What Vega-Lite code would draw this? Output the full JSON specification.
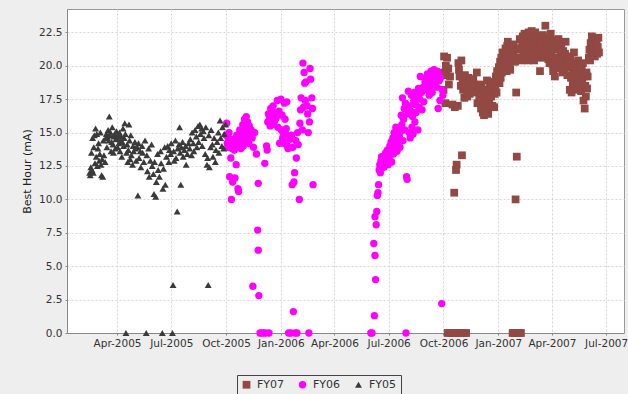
{
"$schema":"https://vega.github.io/schema/vega-lite/v6.json",
"width":557,"height":324,
"autosize":{"type":"none"},
"padding":{"left":67,"top":9,"right":4,"bottom":61},
"background":"#eeeeee",
"config":{
 "view":{"fill":"white","stroke":"#999999","strokeWidth":1},
 "axis":{"labelFont":"DejaVu Sans","labelFontSize":10.5,"labelColor":"#333333","titleFont":"DejaVu Sans","titleFontSize":11,"titleFontWeight":"normal","titleColor":"#222222","gridColor":"#d6d6d6","gridDash":[2,2],"domainColor":"#888888","tickColor":"#888888","tickSize":2,"labelPadding":3},
 "legend":{"strokeColor":"#444444","padding":4,"labelFont":"DejaVu Sans","labelFontSize":11,"labelColor":"#333333","symbolSize":40,"columnPadding":12,"symbolStrokeWidth":0,"labelOffset":5}
},
"data":{"values":[
{"d":"2006-10-01","v":18.2,"s":"FY07"},{"d":"2006-10-02","v":20.7,"s":"FY07"},{"d":"2006-10-03","v":19.5,"s":"FY07"},{"d":"2006-10-04","v":17.2,"s":"FY07"},{"d":"2006-10-05","v":20.0,"s":"FY07"},{"d":"2006-10-06","v":19.3,"s":"FY07"},{"d":"2006-10-07","v":20.6,"s":"FY07"},{"d":"2006-10-08","v":0,"s":"FY07"},{"d":"2006-10-09","v":19.8,"s":"FY07"},{"d":"2006-10-10","v":18.6,"s":"FY07"},{"d":"2006-10-12","v":19.2,"s":"FY07"},{"d":"2006-10-13","v":0,"s":"FY07"},{"d":"2006-10-16","v":17.1,"s":"FY07"},{"d":"2006-10-18","v":0,"s":"FY07"},{"d":"2006-10-19","v":10.5,"s":"FY07"},{"d":"2006-10-20","v":16.9,"s":"FY07"},{"d":"2006-10-22","v":12.2,"s":"FY07"},{"d":"2006-10-23","v":12.6,"s":"FY07"},{"d":"2006-10-24","v":0,"s":"FY07"},{"d":"2006-10-25","v":17.0,"s":"FY07"},{"d":"2006-10-26","v":20.2,"s":"FY07"},{"d":"2006-10-27","v":19.7,"s":"FY07"},{"d":"2006-10-28","v":19.2,"s":"FY07"},{"d":"2006-10-29","v":0,"s":"FY07"},{"d":"2006-10-30","v":18.5,"s":"FY07"},{"d":"2006-10-31","v":20.4,"s":"FY07"},
{"d":"2006-11-01","v":13.3,"s":"FY07"},{"d":"2006-11-02","v":19.0,"s":"FY07"},{"d":"2006-11-03","v":18.2,"s":"FY07"},{"d":"2006-11-04","v":0,"s":"FY07"},{"d":"2006-11-05","v":17.6,"s":"FY07"},{"d":"2006-11-06","v":19.3,"s":"FY07"},{"d":"2006-11-07","v":18.8,"s":"FY07"},{"d":"2006-11-08","v":0,"s":"FY07"},{"d":"2006-11-09","v":18.0,"s":"FY07"},{"d":"2006-11-10","v":17.7,"s":"FY07"},{"d":"2006-11-11","v":18.4,"s":"FY07"},{"d":"2006-11-12","v":19.1,"s":"FY07"},{"d":"2006-11-13","v":18.6,"s":"FY07"},{"d":"2006-11-14","v":17.9,"s":"FY07"},{"d":"2006-11-16","v":18.9,"s":"FY07"},{"d":"2006-11-18","v":18.2,"s":"FY07"},{"d":"2006-11-20","v":19.0,"s":"FY07"},{"d":"2006-11-22","v":18.6,"s":"FY07"},{"d":"2006-11-24","v":18.0,"s":"FY07"},{"d":"2006-11-26","v":19.5,"s":"FY07"},{"d":"2006-11-27","v":17.2,"s":"FY07"},{"d":"2006-11-29","v":18.4,"s":"FY07"},{"d":"2006-11-30","v":17.5,"s":"FY07"},
{"d":"2006-12-01","v":18.1,"s":"FY07"},{"d":"2006-12-02","v":17.3,"s":"FY07"},{"d":"2006-12-03","v":16.8,"s":"FY07"},{"d":"2006-12-04","v":18.6,"s":"FY07"},{"d":"2006-12-05","v":17.0,"s":"FY07"},{"d":"2006-12-06","v":16.5,"s":"FY07"},{"d":"2006-12-07","v":17.9,"s":"FY07"},{"d":"2006-12-08","v":16.3,"s":"FY07"},{"d":"2006-12-09","v":17.4,"s":"FY07"},{"d":"2006-12-10","v":18.2,"s":"FY07"},{"d":"2006-12-11","v":16.7,"s":"FY07"},{"d":"2006-12-12","v":17.6,"s":"FY07"},{"d":"2006-12-13","v":18.9,"s":"FY07"},{"d":"2006-12-14","v":17.1,"s":"FY07"},{"d":"2006-12-15","v":16.4,"s":"FY07"},{"d":"2006-12-16","v":18.0,"s":"FY07"},{"d":"2006-12-17","v":17.3,"s":"FY07"},{"d":"2006-12-18","v":18.5,"s":"FY07"},{"d":"2006-12-19","v":16.9,"s":"FY07"},{"d":"2006-12-20","v":17.7,"s":"FY07"},{"d":"2006-12-21","v":18.3,"s":"FY07"},{"d":"2006-12-22","v":17.0,"s":"FY07"},{"d":"2006-12-24","v":18.8,"s":"FY07"},{"d":"2006-12-25","v":16.9,"s":"FY07"},{"d":"2006-12-26","v":17.9,"s":"FY07"},{"d":"2006-12-27","v":18.4,"s":"FY07"},{"d":"2006-12-28","v":19.2,"s":"FY07"},{"d":"2006-12-29","v":18.0,"s":"FY07"},{"d":"2006-12-30","v":19.6,"s":"FY07"},{"d":"2006-12-31","v":18.7,"s":"FY07"},
{"d":"2007-01-01","v":19.4,"s":"FY07"},{"d":"2007-01-02","v":19.9,"s":"FY07"},{"d":"2007-01-03","v":18.7,"s":"FY07"},{"d":"2007-01-04","v":20.3,"s":"FY07"},{"d":"2007-01-05","v":19.1,"s":"FY07"},{"d":"2007-01-06","v":20.6,"s":"FY07"},{"d":"2007-01-07","v":19.5,"s":"FY07"},{"d":"2007-01-08","v":21.0,"s":"FY07"},{"d":"2007-01-09","v":20.0,"s":"FY07"},{"d":"2007-01-10","v":20.4,"s":"FY07"},{"d":"2007-01-11","v":19.7,"s":"FY07"},{"d":"2007-01-12","v":20.8,"s":"FY07"},{"d":"2007-01-13","v":21.3,"s":"FY07"},{"d":"2007-01-14","v":20.2,"s":"FY07"},{"d":"2007-01-15","v":19.6,"s":"FY07"},{"d":"2007-01-16","v":21.5,"s":"FY07"},{"d":"2007-01-17","v":21.8,"s":"FY07"},{"d":"2007-01-18","v":20.5,"s":"FY07"},{"d":"2007-01-19","v":21.1,"s":"FY07"},{"d":"2007-01-20","v":20.0,"s":"FY07"},{"d":"2007-01-21","v":19.7,"s":"FY07"},{"d":"2007-01-22","v":21.4,"s":"FY07"},{"d":"2007-01-23","v":20.7,"s":"FY07"},{"d":"2007-01-25","v":0,"s":"FY07"},{"d":"2007-01-26","v":20.9,"s":"FY07"},{"d":"2007-01-27","v":21.6,"s":"FY07"},{"d":"2007-01-28","v":0,"s":"FY07"},{"d":"2007-01-29","v":20.3,"s":"FY07"},{"d":"2007-01-30","v":10.0,"s":"FY07"},{"d":"2007-01-31","v":18.0,"s":"FY07"},
{"d":"2007-02-01","v":13.2,"s":"FY07"},{"d":"2007-02-02","v":0,"s":"FY07"},{"d":"2007-02-03","v":21.2,"s":"FY07"},{"d":"2007-02-04","v":20.6,"s":"FY07"},{"d":"2007-02-05","v":0,"s":"FY07"},{"d":"2007-02-06","v":22.0,"s":"FY07"},{"d":"2007-02-07","v":21.3,"s":"FY07"},{"d":"2007-02-08","v":0,"s":"FY07"},{"d":"2007-02-09","v":20.4,"s":"FY07"},{"d":"2007-02-10","v":21.7,"s":"FY07"},{"d":"2007-02-11","v":22.2,"s":"FY07"},{"d":"2007-02-12","v":20.8,"s":"FY07"},{"d":"2007-02-13","v":21.5,"s":"FY07"},{"d":"2007-02-14","v":22.4,"s":"FY07"},{"d":"2007-02-15","v":21.0,"s":"FY07"},{"d":"2007-02-16","v":20.5,"s":"FY07"},{"d":"2007-02-17","v":21.9,"s":"FY07"},{"d":"2007-02-18","v":22.3,"s":"FY07"},{"d":"2007-02-19","v":21.2,"s":"FY07"},{"d":"2007-02-20","v":20.4,"s":"FY07"},{"d":"2007-02-21","v":22.5,"s":"FY07"},{"d":"2007-02-22","v":21.6,"s":"FY07"},{"d":"2007-02-23","v":22.0,"s":"FY07"},{"d":"2007-02-24","v":20.9,"s":"FY07"},{"d":"2007-02-25","v":21.8,"s":"FY07"},{"d":"2007-02-26","v":22.6,"s":"FY07"},{"d":"2007-02-27","v":21.4,"s":"FY07"},
{"d":"2007-03-01","v":22.1,"s":"FY07"},{"d":"2007-03-02","v":20.4,"s":"FY07"},{"d":"2007-03-03","v":21.7,"s":"FY07"},{"d":"2007-03-04","v":22.5,"s":"FY07"},{"d":"2007-03-05","v":21.0,"s":"FY07"},{"d":"2007-03-06","v":21.9,"s":"FY07"},{"d":"2007-03-07","v":22.2,"s":"FY07"},{"d":"2007-03-08","v":20.8,"s":"FY07"},{"d":"2007-03-09","v":21.5,"s":"FY07"},{"d":"2007-03-10","v":22.0,"s":"FY07"},{"d":"2007-03-12","v":19.6,"s":"FY07"},{"d":"2007-03-13","v":21.3,"s":"FY07"},{"d":"2007-03-14","v":20.6,"s":"FY07"},{"d":"2007-03-15","v":21.8,"s":"FY07"},{"d":"2007-03-17","v":22.3,"s":"FY07"},{"d":"2007-03-18","v":21.1,"s":"FY07"},{"d":"2007-03-19","v":20.7,"s":"FY07"},{"d":"2007-03-20","v":22.0,"s":"FY07"},{"d":"2007-03-21","v":23.0,"s":"FY07"},{"d":"2007-03-22","v":21.6,"s":"FY07"},{"d":"2007-03-23","v":20.9,"s":"FY07"},{"d":"2007-03-24","v":21.4,"s":"FY07"},{"d":"2007-03-25","v":22.1,"s":"FY07"},{"d":"2007-03-26","v":20.5,"s":"FY07"},{"d":"2007-03-27","v":21.7,"s":"FY07"},{"d":"2007-03-28","v":20.2,"s":"FY07"},{"d":"2007-03-29","v":21.0,"s":"FY07"},{"d":"2007-03-30","v":22.4,"s":"FY07"},{"d":"2007-03-31","v":20.8,"s":"FY07"},
{"d":"2007-04-01","v":21.5,"s":"FY07"},{"d":"2007-04-02","v":20.1,"s":"FY07"},{"d":"2007-04-03","v":19.6,"s":"FY07"},{"d":"2007-04-04","v":21.9,"s":"FY07"},{"d":"2007-04-05","v":20.4,"s":"FY07"},{"d":"2007-04-06","v":19.2,"s":"FY07"},{"d":"2007-04-07","v":21.2,"s":"FY07"},{"d":"2007-04-08","v":20.0,"s":"FY07"},{"d":"2007-04-09","v":21.7,"s":"FY07"},{"d":"2007-04-10","v":20.6,"s":"FY07"},{"d":"2007-04-11","v":19.8,"s":"FY07"},{"d":"2007-04-12","v":22.0,"s":"FY07"},{"d":"2007-04-13","v":20.3,"s":"FY07"},{"d":"2007-04-14","v":21.4,"s":"FY07"},{"d":"2007-04-15","v":19.9,"s":"FY07"},{"d":"2007-04-16","v":20.8,"s":"FY07"},{"d":"2007-04-17","v":21.6,"s":"FY07"},{"d":"2007-04-18","v":20.2,"s":"FY07"},{"d":"2007-04-19","v":19.5,"s":"FY07"},{"d":"2007-04-20","v":21.1,"s":"FY07"},{"d":"2007-04-21","v":20.5,"s":"FY07"},{"d":"2007-04-22","v":19.7,"s":"FY07"},{"d":"2007-04-23","v":20.9,"s":"FY07"},{"d":"2007-04-24","v":21.8,"s":"FY07"},{"d":"2007-04-25","v":20.0,"s":"FY07"},{"d":"2007-04-26","v":20.6,"s":"FY07"},{"d":"2007-04-27","v":19.3,"s":"FY07"},{"d":"2007-04-28","v":20.4,"s":"FY07"},{"d":"2007-04-29","v":19.9,"s":"FY07"},{"d":"2007-04-30","v":20.7,"s":"FY07"},
{"d":"2007-05-01","v":18.2,"s":"FY07"},{"d":"2007-05-02","v":20.5,"s":"FY07"},{"d":"2007-05-03","v":19.1,"s":"FY07"},{"d":"2007-05-04","v":18.0,"s":"FY07"},{"d":"2007-05-05","v":20.2,"s":"FY07"},{"d":"2007-05-06","v":18.6,"s":"FY07"},{"d":"2007-05-07","v":19.7,"s":"FY07"},{"d":"2007-05-08","v":21.0,"s":"FY07"},{"d":"2007-05-09","v":18.4,"s":"FY07"},{"d":"2007-05-10","v":19.4,"s":"FY07"},{"d":"2007-05-11","v":20.0,"s":"FY07"},{"d":"2007-05-12","v":18.9,"s":"FY07"},{"d":"2007-05-13","v":19.6,"s":"FY07"},{"d":"2007-05-14","v":18.2,"s":"FY07"},{"d":"2007-05-15","v":20.4,"s":"FY07"},{"d":"2007-05-16","v":19.0,"s":"FY07"},{"d":"2007-05-17","v":18.6,"s":"FY07"},{"d":"2007-05-18","v":20.1,"s":"FY07"},{"d":"2007-05-19","v":19.3,"s":"FY07"},{"d":"2007-05-20","v":18.1,"s":"FY07"},{"d":"2007-05-21","v":19.8,"s":"FY07"},{"d":"2007-05-22","v":18.7,"s":"FY07"},{"d":"2007-05-23","v":20.2,"s":"FY07"},{"d":"2007-05-24","v":17.4,"s":"FY07"},{"d":"2007-05-25","v":19.2,"s":"FY07"},{"d":"2007-05-26","v":16.8,"s":"FY07"},{"d":"2007-05-27","v":18.5,"s":"FY07"},{"d":"2007-05-28","v":17.7,"s":"FY07"},{"d":"2007-05-29","v":19.5,"s":"FY07"},{"d":"2007-05-30","v":18.3,"s":"FY07"},{"d":"2007-05-31","v":19.2,"s":"FY07"},
{"d":"2007-06-02","v":20.6,"s":"FY07"},{"d":"2007-06-03","v":21.2,"s":"FY07"},{"d":"2007-06-04","v":20.4,"s":"FY07"},{"d":"2007-06-05","v":21.7,"s":"FY07"},{"d":"2007-06-06","v":21.0,"s":"FY07"},{"d":"2007-06-07","v":22.2,"s":"FY07"},{"d":"2007-06-08","v":20.8,"s":"FY07"},{"d":"2007-06-09","v":21.5,"s":"FY07"},{"d":"2007-06-10","v":21.9,"s":"FY07"},{"d":"2007-06-11","v":21.3,"s":"FY07"},{"d":"2007-06-12","v":20.7,"s":"FY07"},{"d":"2007-06-13","v":22.0,"s":"FY07"},{"d":"2007-06-14","v":21.1,"s":"FY07"},{"d":"2007-06-15","v":21.6,"s":"FY07"},{"d":"2007-06-16","v":20.9,"s":"FY07"},{"d":"2007-06-17","v":21.4,"s":"FY07"},{"d":"2007-06-18","v":22.1,"s":"FY07"},{"d":"2007-06-19","v":21.0,"s":"FY07"},

{"d":"2005-10-01","v":14.8,"s":"FY06"},{"d":"2005-10-02","v":15.7,"s":"FY06"},{"d":"2005-10-03","v":14.2,"s":"FY06"},{"d":"2005-10-04","v":13.9,"s":"FY06"},{"d":"2005-10-05","v":14.6,"s":"FY06"},{"d":"2005-10-06","v":15.0,"s":"FY06"},{"d":"2005-10-07","v":11.7,"s":"FY06"},{"d":"2005-10-08","v":14.4,"s":"FY06"},{"d":"2005-10-09","v":13.1,"s":"FY06"},{"d":"2005-10-10","v":10.0,"s":"FY06"},{"d":"2005-10-11","v":13.8,"s":"FY06"},{"d":"2005-10-12","v":11.3,"s":"FY06"},{"d":"2005-10-13","v":14.5,"s":"FY06"},{"d":"2005-10-14","v":14.0,"s":"FY06"},{"d":"2005-10-15","v":13.7,"s":"FY06"},{"d":"2005-10-16","v":11.6,"s":"FY06"},{"d":"2005-10-17","v":14.3,"s":"FY06"},{"d":"2005-10-18","v":12.6,"s":"FY06"},{"d":"2005-10-19","v":14.8,"s":"FY06"},{"d":"2005-10-20","v":13.9,"s":"FY06"},{"d":"2005-10-21","v":10.8,"s":"FY06"},{"d":"2005-10-22","v":10.6,"s":"FY06"},{"d":"2005-10-23","v":14.1,"s":"FY06"},{"d":"2005-10-24","v":15.2,"s":"FY06"},{"d":"2005-10-25","v":14.6,"s":"FY06"},{"d":"2005-10-26","v":13.8,"s":"FY06"},{"d":"2005-10-27","v":14.9,"s":"FY06"},{"d":"2005-10-28","v":14.3,"s":"FY06"},{"d":"2005-10-29","v":15.6,"s":"FY06"},{"d":"2005-10-30","v":14.0,"s":"FY06"},{"d":"2005-10-31","v":15.1,"s":"FY06"},
{"d":"2005-11-01","v":16.0,"s":"FY06"},{"d":"2005-11-02","v":14.7,"s":"FY06"},{"d":"2005-11-03","v":15.3,"s":"FY06"},{"d":"2005-11-04","v":16.2,"s":"FY06"},{"d":"2005-11-05","v":14.4,"s":"FY06"},{"d":"2005-11-06","v":15.8,"s":"FY06"},{"d":"2005-11-07","v":15.0,"s":"FY06"},{"d":"2005-11-08","v":14.2,"s":"FY06"},{"d":"2005-11-09","v":15.5,"s":"FY06"},{"d":"2005-11-10","v":14.8,"s":"FY06"},{"d":"2005-11-12","v":15.2,"s":"FY06"},{"d":"2005-11-14","v":14.6,"s":"FY06"},{"d":"2005-11-15","v":3.5,"s":"FY06"},{"d":"2005-11-16","v":13.9,"s":"FY06"},{"d":"2005-11-18","v":15.0,"s":"FY06"},{"d":"2005-11-21","v":13.4,"s":"FY06"},{"d":"2005-11-23","v":7.7,"s":"FY06"},{"d":"2005-11-24","v":6.2,"s":"FY06"},{"d":"2005-11-24","v":11.2,"s":"FY06"},{"d":"2005-11-25","v":2.8,"s":"FY06"},{"d":"2005-11-27","v":0,"s":"FY06"},{"d":"2005-11-30","v":0,"s":"FY06"},
{"d":"2005-12-03","v":0,"s":"FY06"},{"d":"2005-12-05","v":12.7,"s":"FY06"},{"d":"2005-12-06","v":0,"s":"FY06"},{"d":"2005-12-08","v":14.0,"s":"FY06"},{"d":"2005-12-09","v":13.7,"s":"FY06"},{"d":"2005-12-10","v":15.8,"s":"FY06"},{"d":"2005-12-11","v":16.4,"s":"FY06"},{"d":"2005-12-12","v":0,"s":"FY06"},{"d":"2005-12-13","v":16.0,"s":"FY06"},{"d":"2005-12-14","v":15.5,"s":"FY06"},{"d":"2005-12-15","v":16.8,"s":"FY06"},{"d":"2005-12-17","v":16.2,"s":"FY06"},{"d":"2005-12-18","v":15.6,"s":"FY06"},{"d":"2005-12-19","v":17.0,"s":"FY06"},{"d":"2005-12-21","v":16.5,"s":"FY06"},{"d":"2005-12-22","v":15.9,"s":"FY06"},{"d":"2005-12-24","v":16.1,"s":"FY06"},{"d":"2005-12-26","v":17.4,"s":"FY06"},{"d":"2005-12-27","v":15.4,"s":"FY06"},{"d":"2005-12-29","v":16.6,"s":"FY06"},{"d":"2005-12-30","v":14.2,"s":"FY06"},
{"d":"2006-01-01","v":17.5,"s":"FY06"},{"d":"2006-01-02","v":15.2,"s":"FY06"},{"d":"2006-01-03","v":16.3,"s":"FY06"},{"d":"2006-01-04","v":14.6,"s":"FY06"},{"d":"2006-01-05","v":15.0,"s":"FY06"},{"d":"2006-01-06","v":14.2,"s":"FY06"},{"d":"2006-01-07","v":17.2,"s":"FY06"},{"d":"2006-01-08","v":16.0,"s":"FY06"},{"d":"2006-01-09","v":14.9,"s":"FY06"},{"d":"2006-01-10","v":15.3,"s":"FY06"},{"d":"2006-01-11","v":17.3,"s":"FY06"},{"d":"2006-01-12","v":14.0,"s":"FY06"},{"d":"2006-01-13","v":13.8,"s":"FY06"},{"d":"2006-01-14","v":0,"s":"FY06"},{"d":"2006-01-16","v":14.5,"s":"FY06"},{"d":"2006-01-18","v":0,"s":"FY06"},{"d":"2006-01-19","v":14.8,"s":"FY06"},{"d":"2006-01-20","v":11.1,"s":"FY06"},{"d":"2006-01-21","v":13.9,"s":"FY06"},{"d":"2006-01-22","v":1.6,"s":"FY06"},{"d":"2006-01-23","v":11.3,"s":"FY06"},{"d":"2006-01-24","v":12.0,"s":"FY06"},{"d":"2006-01-25","v":0,"s":"FY06"},{"d":"2006-01-26","v":14.4,"s":"FY06"},{"d":"2006-01-27","v":13.1,"s":"FY06"},{"d":"2006-01-28","v":0,"s":"FY06"},{"d":"2006-01-29","v":15.0,"s":"FY06"},{"d":"2006-01-30","v":14.1,"s":"FY06"},
{"d":"2006-02-01","v":10.0,"s":"FY06"},{"d":"2006-02-02","v":15.7,"s":"FY06"},{"d":"2006-02-03","v":16.7,"s":"FY06"},{"d":"2006-02-04","v":17.6,"s":"FY06"},{"d":"2006-02-06","v":15.2,"s":"FY06"},{"d":"2006-02-07","v":20.2,"s":"FY06"},{"d":"2006-02-08","v":16.9,"s":"FY06"},{"d":"2006-02-09","v":19.5,"s":"FY06"},{"d":"2006-02-10","v":18.7,"s":"FY06"},{"d":"2006-02-11","v":17.4,"s":"FY06"},{"d":"2006-02-12","v":18.8,"s":"FY06"},{"d":"2006-02-14","v":17.0,"s":"FY06"},{"d":"2006-02-15","v":16.4,"s":"FY06"},{"d":"2006-02-16","v":15.0,"s":"FY06"},{"d":"2006-02-17","v":0,"s":"FY06"},{"d":"2006-02-18","v":15.8,"s":"FY06"},{"d":"2006-02-19","v":19.8,"s":"FY06"},{"d":"2006-02-20","v":19.0,"s":"FY06"},{"d":"2006-02-22","v":17.6,"s":"FY06"},{"d":"2006-02-23","v":16.8,"s":"FY06"},{"d":"2006-02-24","v":11.1,"s":"FY06"},
{"d":"2006-06-01","v":0,"s":"FY06"},{"d":"2006-06-03","v":0,"s":"FY06"},{"d":"2006-06-06","v":6.7,"s":"FY06"},{"d":"2006-06-07","v":1.3,"s":"FY06"},{"d":"2006-06-08","v":5.8,"s":"FY06"},{"d":"2006-06-08","v":8.7,"s":"FY06"},{"d":"2006-06-09","v":4.0,"s":"FY06"},{"d":"2006-06-10","v":8.1,"s":"FY06"},{"d":"2006-06-11","v":9.1,"s":"FY06"},{"d":"2006-06-12","v":10.3,"s":"FY06"},{"d":"2006-06-13","v":10.5,"s":"FY06"},{"d":"2006-06-14","v":11.1,"s":"FY06"},{"d":"2006-06-15","v":12.2,"s":"FY06"},{"d":"2006-06-16","v":12.6,"s":"FY06"},{"d":"2006-06-17","v":12.0,"s":"FY06"},{"d":"2006-06-18","v":12.9,"s":"FY06"},{"d":"2006-06-19","v":13.2,"s":"FY06"},{"d":"2006-06-20","v":12.5,"s":"FY06"},{"d":"2006-06-21","v":12.8,"s":"FY06"},{"d":"2006-06-22","v":13.0,"s":"FY06"},{"d":"2006-06-23","v":12.4,"s":"FY06"},{"d":"2006-06-24","v":13.3,"s":"FY06"},{"d":"2006-06-25","v":12.7,"s":"FY06"},{"d":"2006-06-26","v":13.5,"s":"FY06"},{"d":"2006-06-27","v":12.9,"s":"FY06"},{"d":"2006-06-28","v":13.1,"s":"FY06"},{"d":"2006-06-29","v":13.7,"s":"FY06"},{"d":"2006-06-30","v":12.6,"s":"FY06"},
{"d":"2006-07-01","v":13.4,"s":"FY06"},{"d":"2006-07-02","v":13.0,"s":"FY06"},{"d":"2006-07-03","v":14.0,"s":"FY06"},{"d":"2006-07-04","v":13.6,"s":"FY06"},{"d":"2006-07-05","v":14.3,"s":"FY06"},{"d":"2006-07-06","v":12.8,"s":"FY06"},{"d":"2006-07-07","v":13.9,"s":"FY06"},{"d":"2006-07-08","v":14.6,"s":"FY06"},{"d":"2006-07-09","v":13.4,"s":"FY06"},{"d":"2006-07-10","v":15.0,"s":"FY06"},{"d":"2006-07-11","v":14.2,"s":"FY06"},{"d":"2006-07-12","v":13.8,"s":"FY06"},{"d":"2006-07-13","v":15.4,"s":"FY06"},{"d":"2006-07-14","v":14.5,"s":"FY06"},{"d":"2006-07-15","v":13.6,"s":"FY06"},{"d":"2006-07-16","v":14.9,"s":"FY06"},{"d":"2006-07-17","v":15.3,"s":"FY06"},{"d":"2006-07-18","v":14.1,"s":"FY06"},{"d":"2006-07-19","v":14.7,"s":"FY06"},{"d":"2006-07-20","v":13.9,"s":"FY06"},{"d":"2006-07-21","v":15.1,"s":"FY06"},{"d":"2006-07-22","v":16.3,"s":"FY06"},{"d":"2006-07-23","v":15.6,"s":"FY06"},{"d":"2006-07-24","v":17.6,"s":"FY06"},{"d":"2006-07-25","v":14.4,"s":"FY06"},{"d":"2006-07-26","v":16.0,"s":"FY06"},{"d":"2006-07-27","v":16.8,"s":"FY06"},{"d":"2006-07-28","v":15.2,"s":"FY06"},{"d":"2006-07-29","v":17.2,"s":"FY06"},{"d":"2006-07-30","v":0,"s":"FY06"},{"d":"2006-07-31","v":11.7,"s":"FY06"},
{"d":"2006-08-01","v":11.5,"s":"FY06"},{"d":"2006-08-02","v":16.4,"s":"FY06"},{"d":"2006-08-03","v":18.1,"s":"FY06"},{"d":"2006-08-04","v":15.0,"s":"FY06"},{"d":"2006-08-05","v":17.0,"s":"FY06"},{"d":"2006-08-06","v":14.6,"s":"FY06"},{"d":"2006-08-07","v":16.6,"s":"FY06"},{"d":"2006-08-08","v":17.8,"s":"FY06"},{"d":"2006-08-09","v":15.4,"s":"FY06"},{"d":"2006-08-10","v":16.2,"s":"FY06"},{"d":"2006-08-11","v":14.9,"s":"FY06"},{"d":"2006-08-12","v":17.4,"s":"FY06"},{"d":"2006-08-13","v":18.0,"s":"FY06"},{"d":"2006-08-14","v":15.8,"s":"FY06"},{"d":"2006-08-15","v":17.1,"s":"FY06"},{"d":"2006-08-16","v":16.5,"s":"FY06"},{"d":"2006-08-18","v":17.7,"s":"FY06"},{"d":"2006-08-19","v":15.2,"s":"FY06"},{"d":"2006-08-20","v":18.3,"s":"FY06"},{"d":"2006-08-21","v":16.9,"s":"FY06"},{"d":"2006-08-22","v":17.5,"s":"FY06"},{"d":"2006-08-23","v":19.2,"s":"FY06"},{"d":"2006-08-25","v":18.0,"s":"FY06"},{"d":"2006-08-26","v":16.7,"s":"FY06"},{"d":"2006-08-28","v":18.4,"s":"FY06"},{"d":"2006-08-29","v":17.3,"s":"FY06"},{"d":"2006-08-31","v":18.8,"s":"FY06"},
{"d":"2006-09-01","v":19.1,"s":"FY06"},{"d":"2006-09-02","v":18.2,"s":"FY06"},{"d":"2006-09-04","v":19.4,"s":"FY06"},{"d":"2006-09-05","v":18.6,"s":"FY06"},{"d":"2006-09-06","v":19.0,"s":"FY06"},{"d":"2006-09-07","v":17.8,"s":"FY06"},{"d":"2006-09-08","v":19.3,"s":"FY06"},{"d":"2006-09-09","v":18.5,"s":"FY06"},{"d":"2006-09-10","v":19.6,"s":"FY06"},{"d":"2006-09-11","v":19.0,"s":"FY06"},{"d":"2006-09-12","v":18.0,"s":"FY06"},{"d":"2006-09-13","v":19.5,"s":"FY06"},{"d":"2006-09-14","v":18.9,"s":"FY06"},{"d":"2006-09-15","v":19.7,"s":"FY06"},{"d":"2006-09-16","v":19.2,"s":"FY06"},{"d":"2006-09-17","v":18.7,"s":"FY06"},{"d":"2006-09-18","v":19.4,"s":"FY06"},{"d":"2006-09-19","v":19.0,"s":"FY06"},{"d":"2006-09-20","v":18.4,"s":"FY06"},{"d":"2006-09-21","v":19.6,"s":"FY06"},{"d":"2006-09-22","v":16.8,"s":"FY06"},{"d":"2006-09-23","v":19.3,"s":"FY06"},{"d":"2006-09-24","v":18.9,"s":"FY06"},{"d":"2006-09-25","v":17.4,"s":"FY06"},{"d":"2006-09-26","v":19.1,"s":"FY06"},{"d":"2006-09-28","v":2.2,"s":"FY06"},{"d":"2006-09-29","v":18.2,"s":"FY06"},{"d":"2006-09-30","v":17.8,"s":"FY06"},

{"d":"2005-02-14","v":12.0,"s":"FY05"},{"d":"2005-02-15","v":11.8,"s":"FY05"},{"d":"2005-02-16","v":12.4,"s":"FY05"},{"d":"2005-02-17","v":13.5,"s":"FY05"},{"d":"2005-02-18","v":12.2,"s":"FY05"},{"d":"2005-02-19","v":14.6,"s":"FY05"},{"d":"2005-02-20","v":12.0,"s":"FY05"},{"d":"2005-02-21","v":13.9,"s":"FY05"},{"d":"2005-02-22","v":14.8,"s":"FY05"},{"d":"2005-02-23","v":12.7,"s":"FY05"},{"d":"2005-02-24","v":15.3,"s":"FY05"},{"d":"2005-02-25","v":13.2,"s":"FY05"},{"d":"2005-02-26","v":14.9,"s":"FY05"},{"d":"2005-02-27","v":12.5,"s":"FY05"},{"d":"2005-02-28","v":13.8,"s":"FY05"},
{"d":"2005-03-01","v":14.2,"s":"FY05"},{"d":"2005-03-02","v":12.9,"s":"FY05"},{"d":"2005-03-03","v":13.4,"s":"FY05"},{"d":"2005-03-04","v":15.0,"s":"FY05"},{"d":"2005-03-05","v":12.6,"s":"FY05"},{"d":"2005-03-06","v":11.8,"s":"FY05"},{"d":"2005-03-07","v":13.0,"s":"FY05"},{"d":"2005-03-08","v":11.7,"s":"FY05"},{"d":"2005-03-09","v":14.4,"s":"FY05"},{"d":"2005-03-10","v":13.3,"s":"FY05"},{"d":"2005-03-12","v":12.8,"s":"FY05"},{"d":"2005-03-13","v":14.6,"s":"FY05"},{"d":"2005-03-14","v":14.9,"s":"FY05"},{"d":"2005-03-15","v":13.9,"s":"FY05"},{"d":"2005-03-16","v":14.7,"s":"FY05"},{"d":"2005-03-17","v":15.2,"s":"FY05"},{"d":"2005-03-18","v":14.4,"s":"FY05"},{"d":"2005-03-19","v":16.2,"s":"FY05"},{"d":"2005-03-20","v":14.8,"s":"FY05"},{"d":"2005-03-21","v":15.0,"s":"FY05"},{"d":"2005-03-22","v":13.6,"s":"FY05"},{"d":"2005-03-23","v":14.3,"s":"FY05"},{"d":"2005-03-24","v":15.4,"s":"FY05"},{"d":"2005-03-25","v":14.1,"s":"FY05"},{"d":"2005-03-26","v":13.5,"s":"FY05"},{"d":"2005-03-27","v":14.7,"s":"FY05"},{"d":"2005-03-28","v":14.9,"s":"FY05"},{"d":"2005-03-29","v":13.8,"s":"FY05"},{"d":"2005-03-30","v":14.5,"s":"FY05"},{"d":"2005-03-31","v":15.1,"s":"FY05"},
{"d":"2005-04-01","v":14.6,"s":"FY05"},{"d":"2005-04-02","v":13.9,"s":"FY05"},{"d":"2005-04-03","v":14.8,"s":"FY05"},{"d":"2005-04-04","v":14.2,"s":"FY05"},{"d":"2005-04-05","v":15.0,"s":"FY05"},{"d":"2005-04-06","v":13.6,"s":"FY05"},{"d":"2005-04-07","v":14.4,"s":"FY05"},{"d":"2005-04-08","v":14.7,"s":"FY05"},{"d":"2005-04-09","v":13.2,"s":"FY05"},{"d":"2005-04-10","v":14.3,"s":"FY05"},{"d":"2005-04-11","v":15.3,"s":"FY05"},{"d":"2005-04-12","v":14.0,"s":"FY05"},{"d":"2005-04-13","v":14.6,"s":"FY05"},{"d":"2005-04-14","v":15.7,"s":"FY05"},{"d":"2005-04-15","v":14.9,"s":"FY05"},{"d":"2005-04-16","v":0,"s":"FY05"},{"d":"2005-04-17","v":13.5,"s":"FY05"},{"d":"2005-04-18","v":14.1,"s":"FY05"},{"d":"2005-04-19","v":12.8,"s":"FY05"},{"d":"2005-04-20","v":13.7,"s":"FY05"},{"d":"2005-04-21","v":15.6,"s":"FY05"},{"d":"2005-04-22","v":14.4,"s":"FY05"},{"d":"2005-04-23","v":13.0,"s":"FY05"},{"d":"2005-04-24","v":14.8,"s":"FY05"},{"d":"2005-04-25","v":13.3,"s":"FY05"},{"d":"2005-04-27","v":12.6,"s":"FY05"},{"d":"2005-04-28","v":14.0,"s":"FY05"},{"d":"2005-04-29","v":13.6,"s":"FY05"},
{"d":"2005-05-01","v":14.3,"s":"FY05"},{"d":"2005-05-02","v":13.8,"s":"FY05"},{"d":"2005-05-03","v":12.9,"s":"FY05"},{"d":"2005-05-05","v":13.9,"s":"FY05"},{"d":"2005-05-06","v":10.3,"s":"FY05"},{"d":"2005-05-07","v":14.2,"s":"FY05"},{"d":"2005-05-08","v":13.1,"s":"FY05"},{"d":"2005-05-10","v":13.6,"s":"FY05"},{"d":"2005-05-11","v":12.4,"s":"FY05"},{"d":"2005-05-13","v":14.0,"s":"FY05"},{"d":"2005-05-14","v":13.5,"s":"FY05"},{"d":"2005-05-16","v":12.8,"s":"FY05"},{"d":"2005-05-18","v":14.4,"s":"FY05"},{"d":"2005-05-20","v":0,"s":"FY05"},{"d":"2005-05-21","v":13.3,"s":"FY05"},{"d":"2005-05-22","v":12.1,"s":"FY05"},{"d":"2005-05-24","v":13.8,"s":"FY05"},{"d":"2005-05-25","v":11.7,"s":"FY05"},{"d":"2005-05-27","v":12.9,"s":"FY05"},{"d":"2005-05-29","v":14.1,"s":"FY05"},{"d":"2005-05-30","v":12.5,"s":"FY05"},
{"d":"2005-06-01","v":11.9,"s":"FY05"},{"d":"2005-06-02","v":10.4,"s":"FY05"},{"d":"2005-06-03","v":12.8,"s":"FY05"},{"d":"2005-06-05","v":10.2,"s":"FY05"},{"d":"2005-06-06","v":11.3,"s":"FY05"},{"d":"2005-06-08","v":13.4,"s":"FY05"},{"d":"2005-06-09","v":12.2,"s":"FY05"},{"d":"2005-06-11","v":11.7,"s":"FY05"},{"d":"2005-06-13","v":13.6,"s":"FY05"},{"d":"2005-06-14","v":12.7,"s":"FY05"},{"d":"2005-06-16","v":0,"s":"FY05"},{"d":"2005-06-17","v":10.8,"s":"FY05"},{"d":"2005-06-18","v":12.3,"s":"FY05"},{"d":"2005-06-20","v":13.9,"s":"FY05"},{"d":"2005-06-21","v":11.1,"s":"FY05"},{"d":"2005-06-23","v":13.2,"s":"FY05"},{"d":"2005-06-25","v":14.0,"s":"FY05"},{"d":"2005-06-27","v":12.8,"s":"FY05"},{"d":"2005-06-28","v":13.7,"s":"FY05"},{"d":"2005-06-30","v":13.4,"s":"FY05"},
{"d":"2005-07-01","v":14.2,"s":"FY05"},{"d":"2005-07-03","v":0,"s":"FY05"},{"d":"2005-07-04","v":3.6,"s":"FY05"},{"d":"2005-07-05","v":13.6,"s":"FY05"},{"d":"2005-07-06","v":12.9,"s":"FY05"},{"d":"2005-07-08","v":14.4,"s":"FY05"},{"d":"2005-07-09","v":13.1,"s":"FY05"},{"d":"2005-07-11","v":9.1,"s":"FY05"},{"d":"2005-07-12","v":13.8,"s":"FY05"},{"d":"2005-07-14","v":14.1,"s":"FY05"},{"d":"2005-07-15","v":15.4,"s":"FY05"},{"d":"2005-07-16","v":13.5,"s":"FY05"},{"d":"2005-07-17","v":11.1,"s":"FY05"},{"d":"2005-07-18","v":13.9,"s":"FY05"},{"d":"2005-07-20","v":14.3,"s":"FY05"},{"d":"2005-07-21","v":13.2,"s":"FY05"},{"d":"2005-07-23","v":13.7,"s":"FY05"},{"d":"2005-07-25","v":14.0,"s":"FY05"},{"d":"2005-07-26","v":12.6,"s":"FY05"},{"d":"2005-07-28","v":13.4,"s":"FY05"},{"d":"2005-07-30","v":14.2,"s":"FY05"},
{"d":"2005-08-01","v":13.8,"s":"FY05"},{"d":"2005-08-02","v":14.5,"s":"FY05"},{"d":"2005-08-04","v":13.3,"s":"FY05"},{"d":"2005-08-05","v":15.0,"s":"FY05"},{"d":"2005-08-07","v":14.2,"s":"FY05"},{"d":"2005-08-08","v":13.6,"s":"FY05"},{"d":"2005-08-10","v":15.2,"s":"FY05"},{"d":"2005-08-12","v":14.7,"s":"FY05"},{"d":"2005-08-13","v":13.9,"s":"FY05"},{"d":"2005-08-15","v":15.5,"s":"FY05"},{"d":"2005-08-16","v":14.3,"s":"FY05"},{"d":"2005-08-18","v":15.6,"s":"FY05"},{"d":"2005-08-19","v":14.9,"s":"FY05"},{"d":"2005-08-21","v":15.3,"s":"FY05"},{"d":"2005-08-22","v":14.0,"s":"FY05"},{"d":"2005-08-24","v":15.1,"s":"FY05"},{"d":"2005-08-25","v":14.6,"s":"FY05"},{"d":"2005-08-27","v":13.4,"s":"FY05"},{"d":"2005-08-28","v":15.4,"s":"FY05"},{"d":"2005-08-30","v":12.6,"s":"FY05"},{"d":"2005-08-31","v":13.1,"s":"FY05"},
{"d":"2005-09-01","v":3.6,"s":"FY05"},{"d":"2005-09-02","v":14.8,"s":"FY05"},{"d":"2005-09-03","v":12.4,"s":"FY05"},{"d":"2005-09-05","v":13.9,"s":"FY05"},{"d":"2005-09-06","v":15.2,"s":"FY05"},{"d":"2005-09-08","v":14.1,"s":"FY05"},{"d":"2005-09-09","v":13.2,"s":"FY05"},{"d":"2005-09-11","v":14.6,"s":"FY05"},{"d":"2005-09-13","v":12.8,"s":"FY05"},{"d":"2005-09-14","v":13.7,"s":"FY05"},{"d":"2005-09-16","v":14.3,"s":"FY05"},{"d":"2005-09-18","v":15.0,"s":"FY05"},{"d":"2005-09-19","v":13.5,"s":"FY05"},{"d":"2005-09-21","v":15.9,"s":"FY05"},{"d":"2005-09-22","v":14.6,"s":"FY05"},{"d":"2005-09-24","v":14.0,"s":"FY05"},{"d":"2005-09-25","v":15.4,"s":"FY05"},{"d":"2005-09-27","v":13.8,"s":"FY05"},{"d":"2005-09-28","v":14.9,"s":"FY05"},{"d":"2005-09-30","v":15.6,"s":"FY05"}
]},
"mark":{"type":"point","filled":true,"opacity":1,"strokeWidth":0},
"encoding":{
 "x":{"field":"d","type":"temporal","title":null,
  "scale":{"domain":[{"year":2005,"month":1,"date":7},{"year":2007,"month":7,"date":31}]},
  "axis":{"format":"%b-%Y","labelOverlap":false,"values":[{"year":2005,"month":4,"date":1},{"year":2005,"month":7,"date":1},{"year":2005,"month":10,"date":1},{"year":2006,"month":1,"date":1},{"year":2006,"month":4,"date":1},{"year":2006,"month":7,"date":1},{"year":2006,"month":10,"date":1},{"year":2007,"month":1,"date":1},{"year":2007,"month":4,"date":1},{"year":2007,"month":7,"date":1}]}},
 "y":{"field":"v","type":"quantitative","title":"Best Hour (mA)",
  "scale":{"domain":[0,24.25],"nice":false,"zero":true},
  "axis":{"format":".1f","values":[0,2.5,5,7.5,10,12.5,15,17.5,20,22.5],"titlePadding":6}},
 "color":{"field":"s","type":"nominal",
  "scale":{"domain":["FY07","FY06","FY05"],"range":["#924843","#ff00ff","#3a3a3a"]},
  "legend":{"title":null,"orient":"none","legendX":170,"legendY":366,"direction":"horizontal"}},
 "shape":{"field":"s","type":"nominal",
  "scale":{"domain":["FY07","FY06","FY05"],"range":["square","circle","triangle-up"]},
  "legend":{"title":null,"orient":"none","legendX":170,"legendY":366,"direction":"horizontal"}},
 "size":{"field":"s","type":"nominal","legend":null,
  "scale":{"domain":["FY07","FY06","FY05"],"range":[60,48,40]}}
}
}
